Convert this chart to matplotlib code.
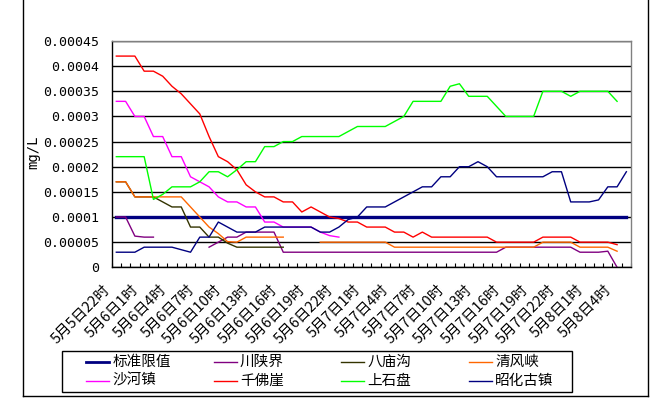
import numpy as np
import matplotlib
matplotlib.use('Agg')
import matplotlib.pyplot as plt
from matplotlib import transforms
from matplotlib.lines import Line2D
from matplotlib.patches import Rectangle

plt.rcParams['font.family'] = ['Noto Sans CJK SC', 'DejaVu Sans']

W, H = 655, 408
nan = np.nan

# x tick labels (every 3rd hourly category, 56 categories in total)
tick_labels = ['5月5日22时', '5月6日1时', '5月6日4时', '5月6日7时', '5月6日10时',
               '5月6日13时', '5月6日16时', '5月6日19时', '5月6日22时', '5月7日1时',
               '5月7日4时', '5月7日7时', '5月7日10时', '5月7日13时', '5月7日16时',
               '5月7日19时', '5月7日22时', '5月8日1时', '5月8日4时']
y_ticks = [0, 0.00005, 0.0001, 0.00015, 0.0002, 0.00025, 0.0003, 0.00035, 0.0004, 0.00045]
y_tick_labels = ['0', '0.00005', '0.0001', '0.00015', '0.0002', '0.00025',
                 '0.0003', '0.00035', '0.0004', '0.00045']

std_limit = [0.0001, 0.0001, 0.0001, 0.0001, 0.0001, 0.0001, 0.0001, 0.0001, 0.0001, 0.0001, 0.0001, 0.0001, 0.0001, 0.0001,
             0.0001, 0.0001, 0.0001, 0.0001, 0.0001, 0.0001, 0.0001, 0.0001, 0.0001, 0.0001, 0.0001, 0.0001, 0.0001, 0.0001,
             0.0001, 0.0001, 0.0001, 0.0001, 0.0001, 0.0001, 0.0001, 0.0001, 0.0001, 0.0001, 0.0001, 0.0001, 0.0001, 0.0001,
             0.0001, 0.0001, 0.0001, 0.0001, 0.0001, 0.0001, 0.0001, 0.0001, 0.0001, 0.0001, 0.0001, 0.0001, 0.0001, 0.0001]

chuanshaanjie = [0.0001, 0.0001, 0.000062, 0.00006, 0.00006, nan, nan, nan, nan, nan,
                 0.00004, 0.00005, 0.00006, 0.00006, 0.00007, 0.00007, 0.00007, 0.00007, 0.00003, 0.00003,
                 0.00003, 0.00003, 0.00003, 0.00003, 0.00003, 0.00003, 0.00003, 0.00003, 0.00003, 0.00003,
                 0.00003, 0.00003, 0.00003, 0.00003, 0.00003, 0.00003, 0.00003, 0.00003, 0.00003, 0.00003,
                 0.00003, 0.00003, 0.00004, 0.00004, 0.00004, 0.00004, 0.00004, 0.00004, 0.00004, 0.00004,
                 0.00003, 0.00003, 0.00003, 0.000032, 0.0, nan]

bamiaogou = [0.00017, 0.00017, 0.00014, 0.00014, 0.00014, 0.00013, 0.00012, 0.00012, 0.00008, 0.00008,
             0.00006, 0.00006, 0.000048, 0.00004, 0.00004, 0.00004, 0.00004, 0.00004, 0.00004, nan,
             nan, nan, nan, nan, nan, nan, nan, nan, nan, nan,
             nan, nan, nan, nan, nan, nan, nan, nan, nan, nan,
             nan, nan, nan, nan, nan, nan, nan, nan, nan, nan,
             nan, nan, nan, nan, nan, nan]

qingfengxia = [0.00017, 0.00017, 0.00014, 0.00014, 0.00014, 0.00014, 0.00014, 0.00014, 0.00012, 0.0001,
               0.00008, 0.000067, 0.000051, 0.00005, 0.00006, 0.00006, 0.00006, 0.00006, 0.00006, nan,
               nan, nan, 0.00005, 0.00005, 0.00005, 0.00005, 0.00005, 0.00005, 0.00005, 0.00005,
               0.00004, 0.00004, 0.00004, 0.00004, 0.00004, 0.00004, 0.00004, 0.00004, 0.00004, 0.00004,
               0.00004, 0.00004, 0.00004, 0.00004, 0.00004, 0.00004, 0.00005, 0.00005, 0.00005, 0.00005,
               0.00004, 0.00004, 0.00004, 0.00004, 0.000032, nan]

shahezhen = [0.00033, 0.00033, 0.0003, 0.0003, 0.00026, 0.00026, 0.00022, 0.00022, 0.00018, 0.00017,
             0.00016, 0.00014, 0.00013, 0.00013, 0.00012, 0.00012, 0.00009, 0.00009, 0.00008, 0.00008,
             0.00008, 0.00008, 0.00007, 0.000063, 0.00006, nan, nan, nan, nan, nan,
             nan, nan, nan, nan, nan, nan, nan, nan, nan, nan,
             nan, nan, nan, nan, nan, nan, nan, nan, nan, nan,
             nan, nan, nan, nan, nan, nan]

qianfoya = [0.00042, 0.00042, 0.00042, 0.00039, 0.00039, 0.00038, 0.00036, 0.000345, 0.000325, 0.000305,
            0.00026, 0.00022, 0.00021, 0.000194, 0.000164, 0.00015, 0.00014, 0.00014, 0.00013, 0.00013,
            0.00011, 0.00012, 0.00011, 0.0001, 0.000097, 0.00009, 0.00009, 0.00008, 0.00008, 0.00008,
            0.00007, 0.00007, 0.00006, 0.00007, 0.00006, 0.00006, 0.00006, 0.00006, 0.00006, 0.00006,
            0.00006, 0.00005, 0.00005, 0.00005, 0.00005, 0.00005, 0.00006, 0.00006, 0.00006, 0.00006,
            0.00005, 0.00005, 0.00005, 0.00005, 0.000045, nan]

shangshipan = [0.00022, 0.00022, 0.00022, 0.00022, 0.000135, 0.000145, 0.00016, 0.00016, 0.00016, 0.00017,
               0.00019, 0.00019, 0.00018, 0.000194, 0.00021, 0.00021, 0.00024, 0.00024, 0.00025, 0.00025,
               0.00026, 0.00026, 0.00026, 0.00026, 0.00026, 0.00027, 0.00028, 0.00028, 0.00028, 0.00028,
               0.00029, 0.0003, 0.00033, 0.00033, 0.00033, 0.00033, 0.00036, 0.000365, 0.00034, 0.00034,
               0.00034, 0.00032, 0.0003, 0.0003, 0.0003, 0.0003, 0.00035, 0.00035, 0.00035, 0.00034,
               0.00035, 0.00035, 0.00035, 0.00035, 0.00033, nan]

zhaohuaguzhen = [0.00003, 0.00003, 0.00003, 0.00004, 0.00004, 0.00004, 0.00004, 0.000035, 0.00003, 0.00006,
                 0.00006, 0.00009, 0.00008, 0.00007, 0.00007, 0.00007, 0.00008, 0.00008, 0.00008, 0.00008,
                 0.00008, 0.00008, 0.00007, 0.00007, 0.00008, 0.000095, 0.0001, 0.00012, 0.00012, 0.00012,
                 0.00013, 0.00014, 0.00015, 0.00016, 0.00016, 0.00018, 0.00018, 0.0002, 0.0002, 0.00021,
                 0.0002, 0.00018, 0.00018, 0.00018, 0.00018, 0.00018, 0.00018, 0.00019, 0.00019, 0.00013,
                 0.00013, 0.00013, 0.000134, 0.00016, 0.00016, 0.00019]

series_names = ['标准限值', '川陕界', '八庙沟', '清风峡', '沙河镇', '千佛崖', '上石盘', '昭化古镇']
series_data = [std_limit, chuanshaanjie, bamiaogou, qingfengxia, shahezhen, qianfoya, shangshipan, zhaohuaguzhen]
colors = ['#000080', '#800080', '#333300', '#FF6600', '#FF00FF', '#FF0000', '#00FF00', '#000080']
widths = [2.4, 1.0, 1.0, 1.0, 1.0, 1.0, 1.0, 1.0]

fig = plt.figure(figsize=(W / 100, H / 100), dpi=100)
# plot area in pixels: left 111.7, right 631, top 41, bottom 267.3
ax = fig.add_axes([111.7 / W, 1 - 267.3 / H, (631 - 111.7) / W, (267.3 - 41) / H])

x = np.arange(len(std_limit))
for name, vals, c, lw in zip(series_names, series_data, colors, widths):
    ax.plot(x, vals, color=c, linewidth=lw, label=name)

ax.set_xlim(-0.5, len(std_limit) - 0.5)
ax.set_ylim(0, 0.00045)

# gridlines
ax.set_yticks(y_ticks)
ax.set_yticklabels(y_tick_labels, family='DejaVu Sans Mono', fontsize=9.5)
ax.yaxis.grid(True, color='black', linewidth=1.0)
ax.set_axisbelow(True)
ax.tick_params(axis='y', length=0, pad=9)

for s in ['top', 'right']:
    ax.spines[s].set_color('#808080')
    ax.spines[s].set_linewidth(1.0)
for s in ['left', 'bottom']:
    ax.spines[s].set_color('black')
    ax.spines[s].set_linewidth(1.0)

ax.set_ylabel('mg/L', family='DejaVu Sans Mono', fontsize=10)
ax.yaxis.set_label_coords((40 - 111.7) / 519.3, 0.51)

# x ticks: marks between categories, labels every 3rd category
ax.set_xticks(np.arange(0, len(std_limit), 3))
ax.set_xticklabels(tick_labels, fontsize=10.5)
ax.set_xticks(np.arange(-0.5, len(std_limit), 1), minor=True)
ax.tick_params(axis='x', which='major', length=0, pad=11)
ax.tick_params(axis='x', which='minor', direction='in', length=3, width=0.8, color='black')
offset = transforms.ScaledTranslation(-0.13, 0, fig.dpi_scale_trans)
for lab in ax.get_xticklabels():
    lab.set_rotation(45)
    lab.set_ha('right')
    lab.set_va('top')
    lab.set_rotation_mode('anchor')
    lab.set_transform(lab.get_transform() + offset)

# pixel transform (origin top-left)
px = transforms.Affine2D().scale(1 / W, -1 / H).translate(0, 1) + fig.transFigure

# chart frame
fig.add_artist(Line2D([23.3, 23.3], [0, 396], transform=px, color='black', linewidth=1.0))
fig.add_artist(Line2D([23.3, 648], [396, 396], transform=px, color='black', linewidth=1.0))
fig.add_artist(Line2D([648, 648], [0, 396], transform=px, color='black', linewidth=1.0))

# legend drawn row by row like the original
fig.add_artist(Rectangle((61.7, 350.7), 510.3, 41, transform=px, fill=False,
                         edgecolor='black', linewidth=1.0))
col_x = [86, 213.5, 341, 468.5]
row_y = [361.7, 380.7]
for k, (name, c, lw) in enumerate(zip(series_names, colors, widths)):
    cx = col_x[k % 4]
    cy = row_y[k // 4]
    fig.add_artist(Line2D([cx, cx + 23], [cy, cy], transform=px, color=c,
                          linewidth=lw if lw < 2 else 2.0))
    fig.text(cx + 26.5, cy, name, transform=px, fontsize=10.5, va='center', ha='left')

fig.savefig('out.png', dpi=100)
